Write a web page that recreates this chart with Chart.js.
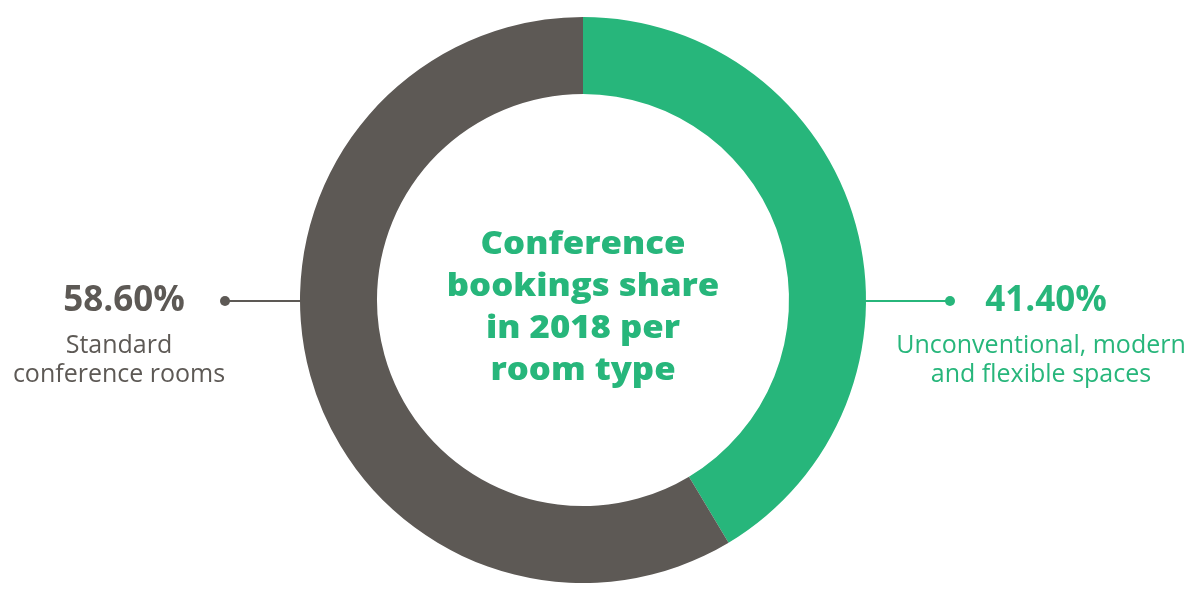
<!DOCTYPE html>
<html>
<head>
<meta charset="utf-8">
<script src="https://cdn.jsdelivr.net/npm/chart.js@4/dist/chart.umd.min.js"></script>
<style>
  html, body { margin: 0; padding: 0; background: #fff; }
  #chart { display: block; }
</style>
</head>
<body>
<canvas id="chart" width="1200" height="605"></canvas>
<script>
const categories = ['Unconventional, modern and flexible spaces', 'Standard conference rooms'];
const shares = [41.4, 58.6];
const shareLabels = ['41.40%', '58.60%'];
const labelLines = [
    ['Unconventional, modern', 'and flexible spaces'],
    ['Standard', 'conference rooms']
];
const centerLines = ['Conference', 'bookings share', 'in 2018 per', 'room type'];
const colors = ['#27b67b', '#5d5955'];

// draws the middle title, connector lines and side labels
const annotations = {
    id: 'annotations',
    afterDatasetsDraw(chart) {
        const arc = chart.getDatasetMeta(0).data[0];
        if (!arc) return;
        const { x: cx, y: cy, outerRadius: r, innerRadius: ir } = arc.getProps(['x', 'y', 'outerRadius', 'innerRadius'], true);
        const ctx = chart.ctx;
        ctx.save();

        // center text, stretched a bit to get closer to the wide original face
        ctx.fillStyle = colors[0];
        ctx.textAlign = 'center';
        ctx.textBaseline = 'middle';
        ctx.font = '800 31px "Open Sans", sans-serif';
        ctx.save();
        ctx.translate(cx, 0);
        ctx.scale(1.12, 1);
        centerLines.forEach((line, i) => {
            ctx.fillText(line, 0, cy - 55 + i * 42);
        });
        ctx.restore();

        const sides = [
            { i: 0, dotX: cx + r + 84, lineFrom: cx + ir, textX: cx + 458 },
            { i: 1, dotX: cx - r - 75, lineFrom: cx - ir, textX: cx - 464 }
        ];
        sides.forEach(s => {
            const col = colors[s.i];
            ctx.strokeStyle = col;
            ctx.fillStyle = col;
            ctx.lineWidth = 2;
            ctx.beginPath();
            ctx.moveTo(s.lineFrom, cy + 1);
            ctx.lineTo(s.dotX, cy + 1);
            ctx.stroke();
            ctx.beginPath();
            ctx.arc(s.dotX, cy + 1, 5, 0, Math.PI * 2);
            ctx.fill();

            ctx.font = 'bold 35px "Open Sans", sans-serif';
            ctx.fillText(shareLabels[s.i], s.textX + 5, cy + 1);
            ctx.font = '25px "Open Sans", sans-serif';
            labelLines[s.i].forEach((line, j) => {
                ctx.fillText(line, s.textX, cy + 46 + j * 29);
            });
        });
        ctx.restore();
    }
};

new Chart(document.getElementById('chart'), {
    type: 'doughnut',
    data: {
        labels: categories,
        datasets: [{
            data: shares,
            backgroundColor: colors,
            borderWidth: 0
        }]
    },
    options: {
        responsive: false,
        animation: false,
        cutout: '72.8%',
        layout: {
            padding: { top: 17, bottom: 22, left: 0, right: 34 }
        },
        plugins: {
            legend: { display: false },
            tooltip: { enabled: false }
        }
    },
    plugins: [annotations]
});
</script>
</body>
</html>
